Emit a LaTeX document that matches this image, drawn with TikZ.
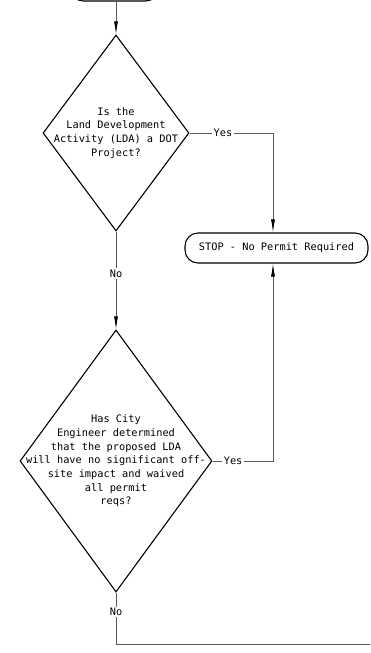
\documentclass[tikz,border=0pt]{standalone}
\usepackage{fontspec}
\setmonofont{DejaVu Sans Mono}
\usetikzlibrary{shapes.geometric, arrows.meta}

\tikzset{
	decision/.style = {draw, diamond, line width = 1.1pt, inner sep = 0pt},
	stopbox/.style = {draw, rectangle, rounded corners = 13pt, line width = 1.1pt, minimum height = 30pt},
	flow/.style = {draw = black!65, line width = 0.8pt},
	tag/.style = {fill = white, inner sep = 1.5pt},
	question/.style = {align = center, font = \ttfamily\fontsize{10.3}{13.7}\selectfont}
}

\begin{document}
\begin{tikzpicture}[x = 1pt, y = -1pt, font = \ttfamily\fontsize{10.3}{12}\selectfont, > = {Latex[length = 13pt, width = 4pt, color = black]}]
	\useasboundingbox (0, 0) rectangle (370, 653);
	\clip (0, 0) rectangle (370, 653);

	\node [stopbox, minimum width = 88pt] (start) at (114.5, -14) {};
	\node [decision, minimum width = 146pt, minimum height = 196pt] (D1) at (116, 133) {};
	\node [decision, minimum width = 192pt, minimum height = 262pt] (D2) at (116, 461) {};
	\node [stopbox, minimum width = 183pt] (stop) at (276.5, 248) {STOP - No Permit Required};

	\node [question] (Q1) at (D1) {Is the\\Land Development\\Activity (LDA) a DOT\\Project?};
	\node [question] (Q2) at (D2) {Has City\\Engineer determined\\that the proposed LDA\\will have no significant off-\\site impact and waived\\all permit\\reqs?};

	\coordinate (c0) at (116, 0);
	\coordinate (c1) at (273, 133);
	\coordinate (c2) at (273, 461);
	\coordinate (c3) at (116, 644);
	\coordinate (exit) at (375, 644);

	\draw [flow, ->] (c0 |- start.south) -- (D1.north);
	\draw [flow, ->] (D1.south) -- node [tag, pos = 0.43] {No} (D2.north);

	\draw [flow, ->] (D1.east) -- node [tag, pos = 0.4] {Yes} (c1) -- (c1 |- stop.north);
	\draw [flow, ->] (D2.east) -- node [tag, pos = 0.34] {Yes} (c2) -- (c2 |- stop.south);

	\draw [flow] (D2.south) -- node [tag, pos = 0.38] {No} (c3) -- (exit);
\end{tikzpicture}
\end{document}
